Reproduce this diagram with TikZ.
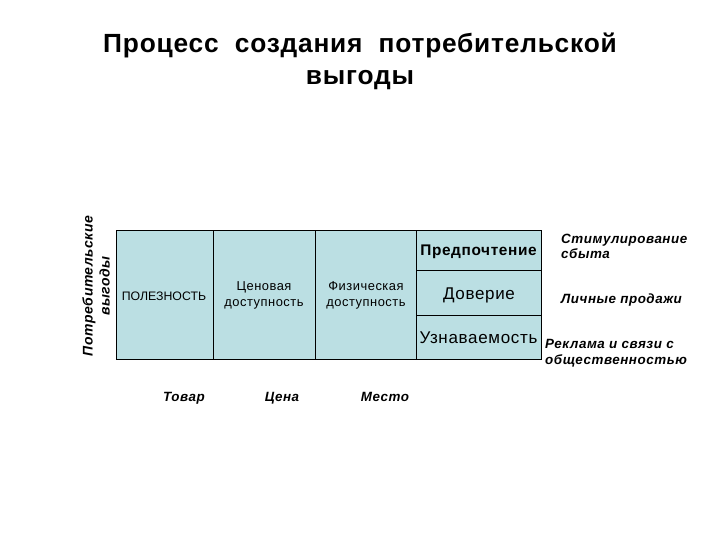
\documentclass[tikz,border=0pt]{standalone}
\usepackage{fontspec}
\setmainfont{Liberation Sans}
\newfontfamily\spTitle[LetterSpace=3]{Liberation Sans}
\newfontfamily\spBig[LetterSpace=4]{Liberation Sans}
\newfontfamily\spSmall[LetterSpace=4]{Liberation Sans}
\newfontfamily\spSide[LetterSpace=4]{Liberation Sans}
\definecolor{cellfill}{RGB}{187,223,227}
\begin{document}
\begin{tikzpicture}[x=1pt,y=-1pt,
  cell/.style={draw=black,line width=0.8pt,fill=cellfill},
  titlef/.style={font=\spTitle\fontsize{26.3}{28}\selectfont\bfseries,inner sep=0,anchor=base},
  small/.style={font=\spSmall\fontsize{12.9}{16}\selectfont,align=center,inner sep=0},
  big/.style={font=\spBig\fontsize{17}{18}\selectfont,inner sep=0,anchor=base},
  side/.style={font=\spSide\fontsize{13.4}{15.7}\selectfont\bfseries\itshape,align=left,inner sep=0},
  bottom/.style={font=\spSide\fontsize{13.4}{15}\selectfont\bfseries\itshape,inner sep=0,anchor=base}]
\useasboundingbox (0,0) rectangle (720,540);
\node[titlef] (title) at (360,53) {Процесс\ \ создания\ \ потребительской};
\node[titlef] (title2) at (360,85) {выгоды};
\node[rotate=90,font=\spSide\fontsize{14}{17}\selectfont\bfseries\itshape,align=center,inner sep=0] (benefit) at (96,286)
  {Потребительские\\выгоды};
\path[cell] (116,230) rectangle (213,359);
\path[cell] (213,230) rectangle (315,359);
\path[cell] (315,230) rectangle (416,359);
\path[cell] (416,230) rectangle (541,270);
\path[cell] (416,270) rectangle (541,315);
\path[cell] (416,315) rectangle (541,359);
\node[small,font=\fontsize{12.3}{14}\selectfont] (util) at (164,296) {ПОЛЕЗНОСТЬ};
\node[small] (price) at (264,295) {Ценовая\\доступность};
\node[small] (phys) at (366,295) {Физическая\\доступность};
\node[big,font=\spBig\fontsize{15.4}{18}\selectfont\bfseries] (pref) at (478.5,255) {Предпочтение};
\node[big] (trust) at (479,299) {Доверие};
\node[big] (aware) at (478.5,343) {Узнаваемость};
\node[side,anchor=north west] (promo) at (561,233.5) {Стимулирование\\сбыта};
\node[side,anchor=base west] (sales) at (561,303) {Личные продажи};
\node[side,anchor=north west] (pr) at (545,339.5) {Реклама и связи с\\общественностью};
\node[bottom] (prod) at (184,401) {Товар};
\node[bottom] (cost) at (282,401) {Цена};
\node[bottom] (place) at (385,401) {Место};
\end{tikzpicture}
\end{document}
